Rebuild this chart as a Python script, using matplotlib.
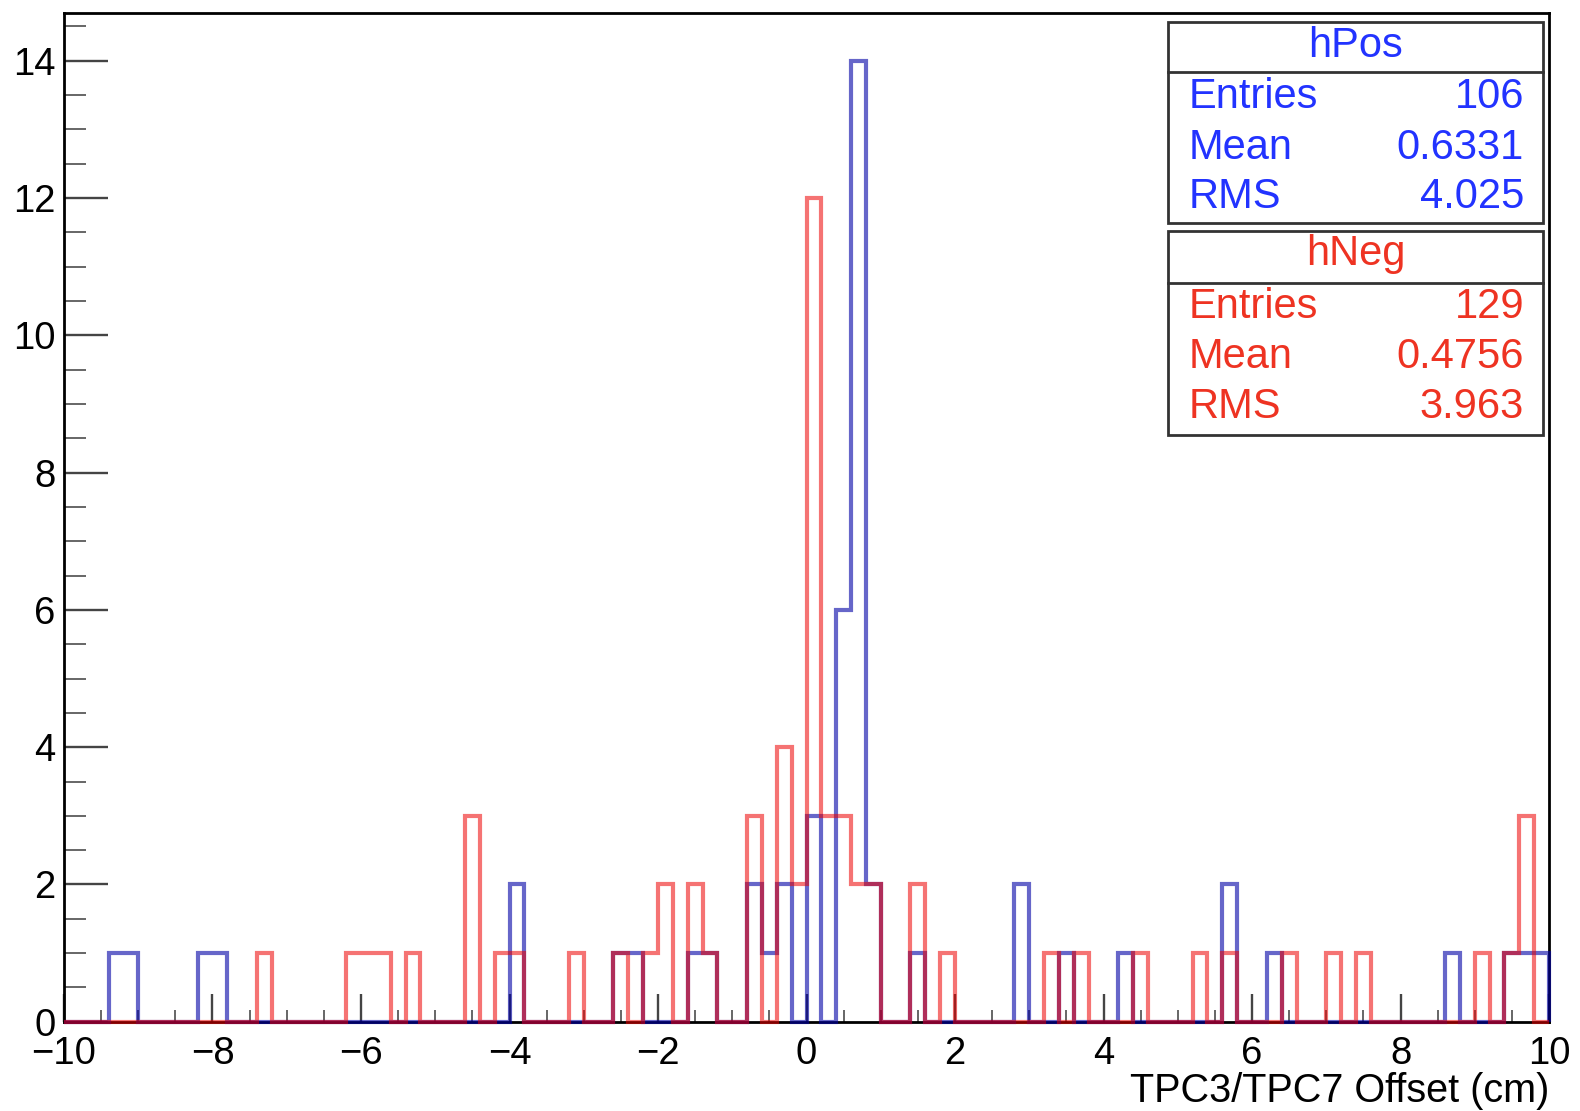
import numpy as np
import matplotlib
matplotlib.use("Agg")
import matplotlib.pyplot as plt
from matplotlib.patches import Rectangle
from matplotlib.ticker import MultipleLocator

plt.rcParams['font.family'] = ['Liberation Sans', 'DejaVu Sans']

# ---- data ----
x_min, x_max, n_bins = -10.0, 10.0, 100
x_ticks = [-10, -8, -6, -4, -2, 0, 2, 4, 6, 8, 10]
y_ticks = [0, 2, 4, 6, 8, 10, 12, 14]
x_label = "TPC3/TPC7 Offset (cm)"

# hPos: lower bin edges of non-empty bins and their counts
pos_bin_lo = [-9.4, -9.2, -8.2, -8.0, -4.0, -2.6, -2.4, -1.6, -1.4, -0.8, -0.6, -0.4,
              0.0, 0.4, 0.6, 0.8, 1.4, 2.8, 3.4, 4.2, 5.6, 6.2, 8.6, 9.4, 9.6, 9.8]
pos_counts = [1, 1, 1, 1, 2, 1, 1, 1, 1, 2, 1, 2,
              3, 6, 14, 2, 1, 2, 1, 1, 2, 1, 1, 1, 1, 1]

# hNeg
neg_bin_lo = [-7.4, -6.2, -6.0, -5.8, -5.4, -4.6, -4.2, -4.0, -3.2, -2.6, -2.2, -2.0,
              -1.6, -1.4, -0.8, -0.4, -0.2, 0.0, 0.2, 0.4, 0.6, 0.8, 1.4, 1.8,
              3.2, 3.6, 4.4, 5.2, 5.6, 6.4, 7.0, 7.4, 9.0, 9.4, 9.6]
neg_counts = [1, 1, 1, 1, 1, 3, 1, 1, 1, 1, 1, 2,
              2, 1, 3, 4, 2, 12, 3, 3, 2, 2, 2, 1,
              1, 1, 1, 1, 1, 1, 1, 1, 1, 1, 3]

pos_stats = [("Entries", "106"), ("Mean", "0.6331"), ("RMS", "4.025")]
neg_stats = [("Entries", "129"), ("Mean", "0.4756"), ("RMS", "3.963")]

# ---- build histograms ----
edges = np.linspace(x_min, x_max, n_bins + 1)
width = (x_max - x_min) / n_bins
pos_hist = np.zeros(n_bins)
neg_hist = np.zeros(n_bins)
for lo, c in zip(pos_bin_lo, pos_counts):
    pos_hist[int(round((lo - x_min) / width))] += c
for lo, c in zip(neg_bin_lo, neg_counts):
    neg_hist[int(round((lo - x_min) / width))] += c

# ---- figure ----
fig = plt.figure(figsize=(15.8, 11.11), dpi=100)
ax = fig.add_axes([0.0405, 0.0803, 0.9399, 0.9083])

blue_line = (0.0, 0.0, 0.65, 0.6)
red_line = (0.93, 0.0, 0.0, 0.55)

ax.stairs(pos_hist, edges, baseline=0, color=blue_line, lw=3.0, zorder=3, clip_on=False)
ax.stairs(neg_hist, edges, baseline=0, color=red_line, lw=3.0, zorder=4, clip_on=False)

ax.set_xlim(x_min, x_max)
ax.set_ylim(0, 14.7)

ax.set_xticks(x_ticks)
ax.set_xticklabels([("\u2212" if v < 0 else "") + str(abs(v)) for v in x_ticks])
ax.set_yticks(y_ticks)
ax.set_yticklabels([str(v) for v in y_ticks])
ax.xaxis.set_minor_locator(MultipleLocator(0.5))
ax.yaxis.set_minor_locator(MultipleLocator(0.5))

ax.tick_params(axis='x', which='major', direction='in', length=20, width=1.7,
               color='#444444', labelsize=27.5, pad=10, top=False)
ax.tick_params(axis='x', which='minor', direction='in', length=8.5, width=1.4,
               color='#666666', top=False)
ax.tick_params(axis='y', which='major', direction='in', length=32, width=1.7,
               color='#444444', labelsize=27.5, pad=6, right=False)
ax.tick_params(axis='y', which='minor', direction='in', length=16, width=1.4,
               color='#666666', right=False)

for s in ax.spines.values():
    s.set_linewidth(2.0)
    s.set_color('black')

ax.set_xlabel(x_label, fontsize=28.5, ha='right', va='center')
ax.xaxis.set_label_coords(1.0, -0.0686)

# ---- stats boxes ----
bx0, bx1 = 0.7392, 0.9766
txt_l, txt_r, txt_c = 0.7525, 0.9646, 0.8579


def stats_box(top, sep, bottom, title, rows, row_ys, title_y, color):
    fig.patches.append(Rectangle((bx0, bottom), bx1 - bx0, top - bottom,
                                 transform=fig.transFigure, facecolor='white',
                                 edgecolor='#333333', lw=2.0, zorder=10))
    fig.lines.append(plt.Line2D([bx0, bx1], [sep, sep], transform=fig.transFigure,
                                color='#333333', lw=2.0, zorder=11))
    fig.text(txt_c, title_y, title, color=color, fontsize=30, ha='center',
             va='center', zorder=12)
    for (k, v), y in zip(rows, row_ys):
        fig.text(txt_l, y, k, color=color, fontsize=30, ha='left', va='center', zorder=12)
        fig.text(txt_r, y, v, color=color, fontsize=30, ha='right', va='center', zorder=12)


stats_box(0.9805, 0.9355, 0.7996, "hPos", pos_stats,
          [0.9127, 0.8668, 0.8227], 0.9586, '#2233ff')
stats_box(0.7923, 0.7453, 0.6085, "hNeg", neg_stats,
          [0.7237, 0.6787, 0.6337], 0.7714, '#ee3322')

fig.savefig("out.png", dpi=100)
